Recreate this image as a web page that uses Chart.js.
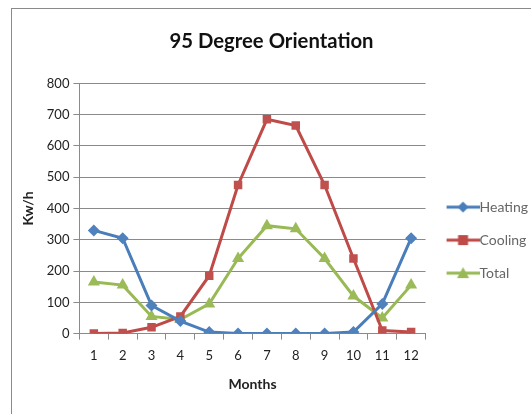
<!DOCTYPE html>
<html>
<head>
<meta charset="utf-8">
<script src="https://cdn.jsdelivr.net/npm/chart.js@4/dist/chart.umd.min.js"></script>
<style>
  html, body { margin: 0; padding: 0; background: #fff; overflow: hidden; }
  #frame { position: absolute; left: 11px; top: 8px; width: 540px; height: 430px; border: 1px solid #8a8a8a; }
  #wrap { position: absolute; left: 0; top: 0; width: 531px; height: 414px; }
</style>
</head>
<body>
<div id="frame"></div>
<div id="wrap"><canvas id="chart" width="531" height="414"></canvas></div>
<script>
const months = ['1', '2', '3', '4', '5', '6', '7', '8', '9', '10', '11', '12'];
const heating = [330, 305, 90, 40, 5, 0, 0, 0, 0, 5, 95, 305];
const cooling = [0, 2, 20, 55, 185, 475, 685, 665, 475, 240, 10, 5];
const total = [165, 155, 55, 45, 95, 240, 345, 335, 240, 120, 50, 155];
const yTicks = [0, 100, 200, 300, 400, 500, 600, 700, 800];

const FONT = 'Lato, "Open Sans", sans-serif';

// small canvas used as legend marker: line with the point on it
// (left 9px are empty so the line ends right at the label text)
function legendIcon(color, style) {
    let c = document.createElement('canvas');
    c.width = 42; c.height = 14;
    let g = c.getContext('2d');
    g.strokeStyle = color;
    g.fillStyle = color;
    g.lineWidth = 3;
    g.beginPath();
    g.moveTo(9, 7); g.lineTo(42, 7);
    g.stroke();
    let cx = 25.5;
    g.beginPath();
    if (style === 'diamond') {
        g.moveTo(cx, 1.5); g.lineTo(cx + 5.5, 7); g.lineTo(cx, 12.5); g.lineTo(cx - 5.5, 7);
    } else if (style === 'square') {
        g.rect(cx - 5, 2, 10, 10);
    } else {
        g.moveTo(cx, 1); g.lineTo(cx + 6, 12); g.lineTo(cx - 6, 12);
    }
    g.closePath();
    g.fill();
    return c;
}

let ctx = document.getElementById('chart');

var chartData = {
    labels: months,
    datasets: [
        {
            label: 'Heating',
            data: heating,
            borderColor: '#4A7EBB',
            backgroundColor: '#4F81BD',
            borderWidth: 3,
            pointStyle: 'rectRot',
            pointRadius: 6,
            pointBorderWidth: 0,
            legendIcon: legendIcon('#4A7EBB', 'diamond')
        },
        {
            label: 'Cooling',
            data: cooling,
            borderColor: '#BE4B48',
            backgroundColor: '#C0504D',
            borderWidth: 3,
            pointStyle: 'rect',
            pointRadius: 6,
            pointBorderWidth: 0,
            legendIcon: legendIcon('#BE4B48', 'square')
        },
        {
            label: 'Total',
            data: total,
            borderColor: '#98B954',
            backgroundColor: '#9BBB59',
            borderWidth: 3,
            pointStyle: 'triangle',
            pointRadius: 7,
            pointBorderWidth: 0,
            legendIcon: legendIcon('#98B954', 'triangle')
        }
    ]
};

var lineChart = new Chart(ctx, {
    type: 'line',
    data: chartData,
    options: {
        responsive: false,
        animation: false,
        layout: { padding: { left: 5, right: -7, top: 0, bottom: 17 } },
        plugins: {
            title: {
                display: true,
                text: '95 Degree Orientation',
                color: '#111',
                font: { family: FONT, size: 20.3, weight: 'bold' },
                padding: { top: 29, bottom: 30 }
            },
            legend: {
                position: 'right',
                title: { display: true, text: '', font: { size: 1 }, padding: { top: 0, bottom: 82 } },
                labels: {
                    usePointStyle: true,
                    pointStyleWidth: 28,
                    boxHeight: 14,
                    color: '#222',
                    font: { family: FONT, size: 14 },
                    padding: 19,
                    generateLabels: function (chart) {
                        return chart.data.datasets.map(function (ds, i) {
                            return {
                                text: ds.label,
                                pointStyle: ds.legendIcon,
                                fillStyle: ds.backgroundColor,
                                strokeStyle: ds.borderColor,
                                lineWidth: 0,
                                datasetIndex: i,
                                hidden: false
                            };
                        });
                    }
                }
            },
            tooltip: { enabled: false }
        },
        scales: {
            x: {
                offset: true,
                grid: { offset: true, drawOnChartArea: false, drawTicks: true, tickLength: 6, color: '#8a8a8a' },
                border: { color: '#8a8a8a', width: 1 },
                ticks: { color: '#222', font: { family: FONT, size: 13 }, padding: 8 },
                title: { display: true, text: 'Months', color: '#222', font: { family: FONT, size: 14, weight: 'bold' }, padding: { top: 5 } }
            },
            y: {
                min: 0,
                max: 800,
                afterBuildTicks: function (axis) {
                    axis.ticks = yTicks.map(function (v) { return { value: v }; });
                },
                grid: { color: '#8a8a8a', tickLength: 6, lineWidth: 1 },
                border: { color: '#8a8a8a', width: 1 },
                ticks: { color: '#222', font: { family: FONT, size: 13 }, padding: 4 },
                title: { display: true, text: 'Kw/h', color: '#222', font: { family: FONT, size: 14, weight: 'bold' }, padding: { top: 15, bottom: 6 } }
            }
        }
    }
});
</script>
</body>
</html>
